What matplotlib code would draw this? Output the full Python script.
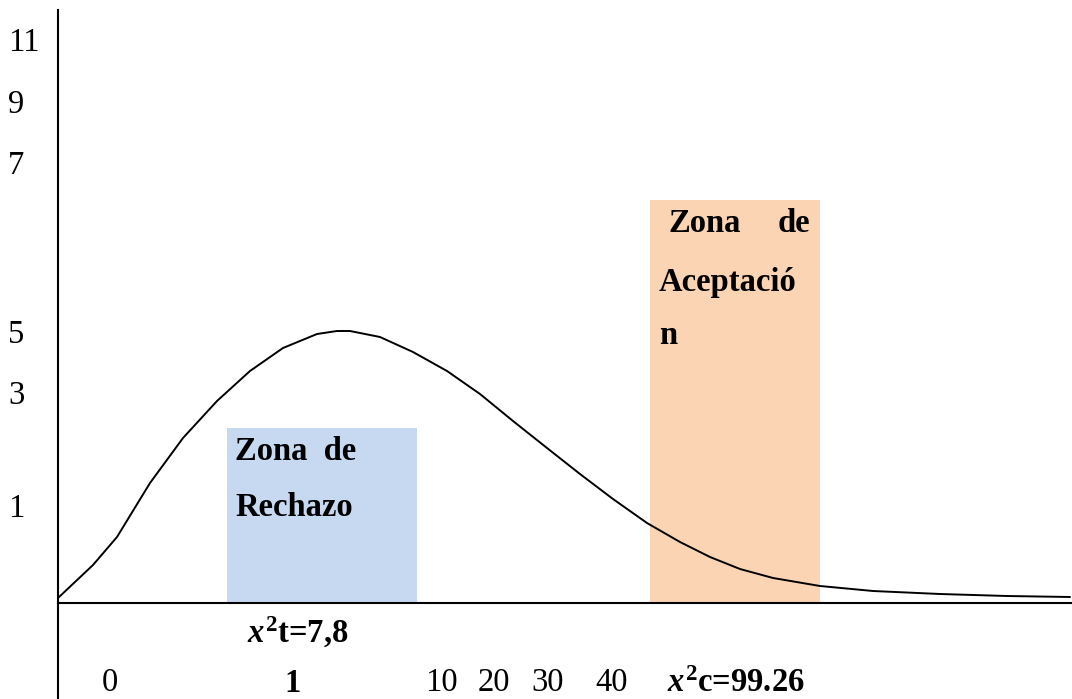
import matplotlib
matplotlib.use("Agg")
import matplotlib.pyplot as plt
from matplotlib.patches import Rectangle

plt.rcParams['font.family'] = ['Liberation Serif', 'DejaVu Serif']
plt.rcParams['mathtext.fontset'] = 'custom'
plt.rcParams['mathtext.rm'] = 'Liberation Serif:bold'
plt.rcParams['mathtext.it'] = 'Liberation Serif:italic:bold'
plt.rcParams['mathtext.bf'] = 'Liberation Serif:bold'

# ---- data (units measured from the origin of the sketch) ----
curve_x = [0, 35, 59, 92, 125, 159, 192, 225, 259, 279, 292, 322, 355, 389, 422,
           455, 489, 522, 555, 589, 622, 652, 682, 715, 762, 815, 882, 949, 1012]
curve_y = [5, 38, 66, 120, 165, 202, 232, 255, 269, 272, 272, 266, 251, 232, 209,
           182, 155, 129, 104, 80, 61, 46, 34, 25, 17, 12, 9, 7, 6]

reject_zone = (169, 359, 175)     # x start, x end, height
accept_zone = (592, 762, 403)

y_tick_labels = ["11", "9", "7", "5", "3", "1"]
y_tick_pos = [560, 498, 437, 268, 207, 94]

x_tick_labels = ["0", "10", "20", "30", "40"]
x_tick_pos = [52, 383, 436, 490, 554]

FS = 23.5

fig = plt.figure(figsize=(10.72, 6.99), dpi=100)
ax = fig.add_axes([0, 0, 1, 1])
ax.set_xlim(-58, 1014)
ax.set_ylim(-96, 603)

for s in ['top', 'right']:
    ax.spines[s].set_visible(False)
ax.spines['left'].set_position(('data', 0))
ax.spines['bottom'].set_position(('data', 0))
ax.spines['left'].set_bounds(-96, 593)
ax.spines['bottom'].set_bounds(0, 1014)
for s in ['left', 'bottom']:
    ax.spines[s].set_linewidth(1.5)
    ax.spines[s].set_zorder(5)
ax.set_xticks([])
ax.set_yticks([])

# zones
x0, x1, h = reject_zone
ax.add_patch(Rectangle((x0, 0), x1 - x0, h, facecolor='#C6D9F1', edgecolor='none', zorder=1))
x0, x1, h = accept_zone
ax.add_patch(Rectangle((x0, 0), x1 - x0, h, facecolor='#FBD4B4', edgecolor='none', zorder=1))

# curve
ax.plot(curve_x, curve_y, color='black', lw=1.4, zorder=3,
        solid_capstyle='round', solid_joinstyle='round')

# y labels
for lab, p in zip(y_tick_labels, y_tick_pos):
    ax.text(-50, p, lab, ha='left', va='center', fontsize=FS, clip_on=False)

# x labels
for lab, p in zip(x_tick_labels, x_tick_pos):
    ax.text(p, -80, lab, ha='center', va='center', fontsize=FS)
ax.text(235, -80, "1", ha='center', va='center', fontsize=FS, fontweight='bold')
ax.text(609, -80, r"$x^{2}$c=99.26", ha='left', va='center', fontsize=FS, fontweight='bold')
ax.text(189, -29, r"$x^{2}$t=7,8", ha='left', va='center', fontsize=FS, fontweight='bold')

# zone labels
ax.text(177, 152, "Zona  de", ha='left', va='center', fontsize=FS, fontweight='bold', zorder=4)
ax.text(177, 95, "Rechazo", ha='left', va='center', fontsize=FS, fontweight='bold', zorder=4)
ax.text(610, 379, "Zona", ha='left', va='center', fontsize=FS, fontweight='bold', zorder=4)
ax.text(752, 379, "de", ha='right', va='center', fontsize=FS, fontweight='bold', zorder=4)
ax.text(601, 321, "Aceptació", ha='left', va='center', fontsize=FS, fontweight='bold', zorder=4)
ax.text(601, 268, "n", ha='left', va='center', fontsize=FS, fontweight='bold', zorder=4)

fig.savefig("out.png", dpi=100)
